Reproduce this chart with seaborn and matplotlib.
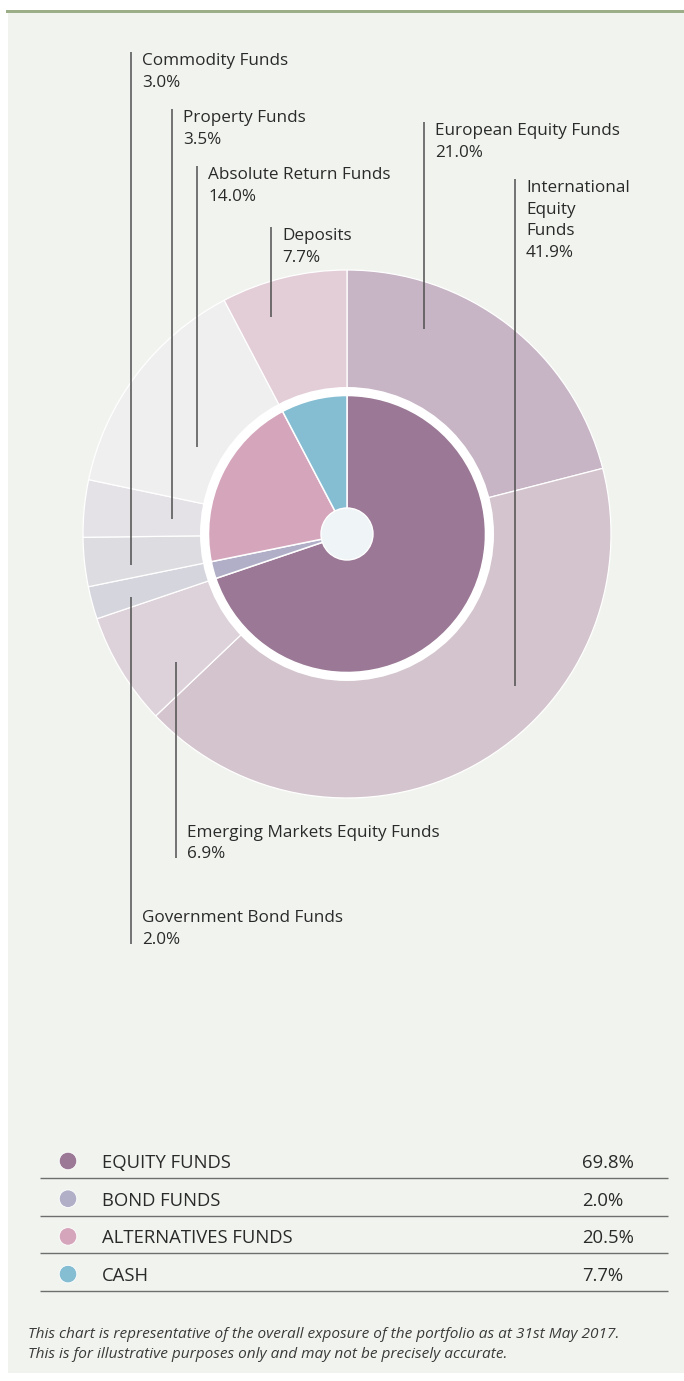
import matplotlib
matplotlib.use("Agg")
import matplotlib.pyplot as plt
from matplotlib.patches import Rectangle, Circle
import pandas as pd
import seaborn as sns

# ---- portfolio breakdown -------------------------------------------------
fund_names = [
    "European Equity Funds", "International Equity Funds",
    "Emerging Markets Equity Funds", "Government Bond Funds",
    "Commodity Funds", "Property Funds", "Absolute Return Funds", "Deposits",
]
fund_values = [21.0, 41.9, 6.9, 2.0, 3.0, 3.5, 14.0, 7.7]
fund_colors = ["#c7b4c5", "#d4c4cd", "#ddd2d9", "#d5d5dd",
               "#dcdce1", "#e4e2e7", "#eeefee", "#e3cdd7"]

class_names = ["EQUITY FUNDS", "BOND FUNDS", "ALTERNATIVES FUNDS", "CASH"]
class_values = [69.8, 2.0, 20.5, 7.7]
class_colors = ["#9b7996", "#b1afc7", "#d4a5bb", "#85bdd2"]

footnote = [
    "This chart is representative of the overall exposure of the portfolio as at 31st May 2017.",
    "This is for illustrative purposes only and may not be precisely accurate.",
]

# ---- leader-line layout (pixels from top-left): x, top, bottom, text at bottom?
leaders = {
    "European Equity Funds":         (424, 122, 329, False),
    "International Equity Funds":    (515, 179, 686, False),
    "Emerging Markets Equity Funds": (176, 662, 858, True),
    "Government Bond Funds":         (131, 597, 944, True),
    "Commodity Funds":               (131, 52, 565, False),
    "Property Funds":                (172, 109, 519, False),
    "Absolute Return Funds":         (197, 166, 447, False),
    "Deposits":                      (271, 227, 317, False),
}
stacked_names = {"International Equity Funds"}

sns.set_style("white")
plt.rcParams["font.family"] = ["Open Sans", "DejaVu Sans"]

W, H = 684, 1381
TEXT = "#2a2a2a"
LINE = "#4f4f4f"


def Y(p):
    return H - p


fig = plt.figure(figsize=(W / 100, H / 100), dpi=100, facecolor="white")
ax = fig.add_axes([0, 0, 1, 1])

# panel background and green top rule
ax.add_patch(Rectangle((8, Y(1373)), W - 8, 1373 - 12, facecolor="#f1f4ee",
                       edgecolor="none", zorder=0))
ax.add_patch(Rectangle((6, Y(12.7)), W - 6, 3, facecolor="#9bae88",
                       edgecolor="none", zorder=0.5))

cx, cy = 347, Y(534)

# outer ring: individual funds
ax.pie(fund_values, colors=fund_colors, radius=264, center=(cx, cy),
       startangle=90, counterclock=False, frame=True,
       wedgeprops=dict(edgecolor="white", linewidth=0.9, zorder=1))

# white separator ring, then inner pie: asset classes
ax.add_patch(Circle((cx, cy), 147, facecolor="white", edgecolor="none", zorder=2))
ax.pie(class_values, colors=class_colors, radius=138.5, center=(cx, cy),
       startangle=90, counterclock=False, frame=True,
       wedgeprops=dict(edgecolor="white", linewidth=1.1, zorder=3))
ax.add_patch(Circle((cx, cy), 26, facecolor="#eff4f6", edgecolor="white",
                    linewidth=1.0, zorder=4))

# leader lines and labels
LS = 21.5
for name, val in zip(fund_names, fund_values):
    lx, top, bottom, below = leaders[name]
    ax.plot([lx, lx], [Y(top), Y(bottom)], color=LINE, lw=1.1,
            solid_capstyle="butt", zorder=5)
    words = name.split(" ") if name in stacked_names else [name]
    lines = words + [f"{val:.1f}%"]
    if below:
        b0 = bottom - LS * (len(lines) - 1)
    else:
        b0 = top + 13
    for i, t in enumerate(lines):
        ax.text(lx + 11, Y(b0 + i * LS), t, fontsize=12.3, color=TEXT,
                ha="left", va="baseline", zorder=6)

# legend table
row0, step = 1161, 37.7
rows = pd.DataFrame({
    "x": [68] * len(class_names),
    "y": [Y(row0 + i * step) for i in range(len(class_names))],
    "cls": class_names,
})
sns.scatterplot(data=rows, x="x", y="y", hue="cls",
                palette=dict(zip(class_names, class_colors)), s=160,
                edgecolor="white", linewidth=0.6, legend=False, ax=ax, zorder=6)
for i, (name, val) in enumerate(zip(class_names, class_values)):
    yc = row0 + i * step
    ax.text(102, Y(yc + 7), name, fontsize=13.3, color=TEXT,
            ha="left", va="baseline")
    ax.text(582, Y(yc + 7), f"{val:.1f}%", fontsize=13.3, color=TEXT,
            ha="left", va="baseline")
    ax.plot([40, 668], [Y(yc + 17), Y(yc + 17)], color="#6e6e6e", lw=1.0,
            solid_capstyle="butt")

# footnote
for i, t in enumerate(footnote):
    ax.text(28, Y(1338 + i * 20), t, fontsize=11.1, style="italic",
            color="#3a3a3a", ha="left", va="baseline")

ax.set_xlim(0, W)
ax.set_ylim(0, H)
ax.set_aspect("auto")
ax.set_axis_off()

fig.savefig("out.png", dpi=100, facecolor="white")
